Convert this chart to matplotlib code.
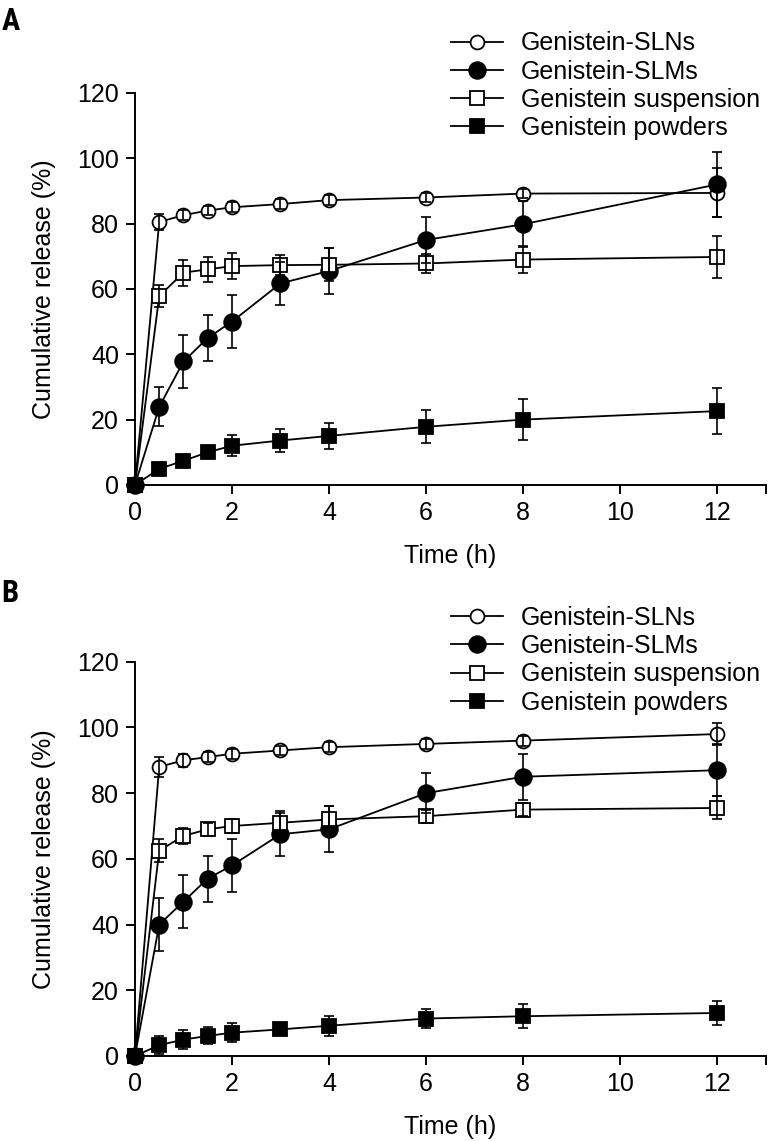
import matplotlib
matplotlib.use('Agg')
import matplotlib.pyplot as plt

plt.rcParams['font.family'] = ['Liberation Sans', 'DejaVu Sans']

# Tiempos de muestreo (h)
tiempo = [0, 0.5, 1, 1.5, 2, 3, 4, 6, 8, 12]

nombres = ['Genistein-SLNs', 'Genistein-SLMs', 'Genistein suspension', 'Genistein powders']

# Panel A
sln_a = [0, 80.5, 82.6, 84.0, 85.0, 86.0, 87.2, 88.0, 89.2, 89.4]
sln_a_err = [0, 2.5, 1.5, 1.5, 1.5, 1.5, 1.5, 1.5, 1.3, 7.5]
slm_a = [0, 23.9, 37.8, 45.0, 50.0, 61.7, 65.5, 75.0, 79.8, 92.0]
slm_a_err = [0, 6.0, 8.2, 7.0, 8.0, 6.7, 7.0, 7.0, 7.0, 10.0]
susp_a = [0, 57.8, 65.0, 66.0, 67.0, 67.3, 67.4, 67.8, 69.0, 69.8]
susp_a_err = [0, 3.3, 4.0, 3.8, 4.0, 3.0, 5.0, 3.0, 4.0, 6.3]
polvo_a = [0, 4.9, 7.4, 10.0, 12.0, 13.6, 15.0, 17.8, 20.0, 22.6]
polvo_a_err = [0, 1.0, 1.0, 1.2, 3.2, 3.6, 3.9, 5.0, 6.2, 7.0]

# Panel B
sln_b = [0, 88.0, 90.0, 91.0, 92.0, 93.0, 94.0, 95.0, 96.0, 98.0]
sln_b_err = [0, 3.0, 2.0, 1.5, 1.5, 1.5, 1.5, 1.5, 1.5, 3.3]
slm_b = [0, 40.0, 47.0, 54.0, 58.0, 67.5, 69.0, 80.0, 85.0, 87.0]
slm_b_err = [0, 8.0, 8.0, 7.0, 8.0, 6.5, 7.0, 6.0, 7.0, 8.0]
susp_b = [0, 62.5, 67.0, 69.0, 70.0, 71.0, 72.0, 73.0, 75.0, 75.5]
susp_b_err = [0, 3.5, 2.5, 2.0, 2.0, 3.5, 4.2, 2.0, 2.0, 3.5]
polvo_b = [0, 3.3, 5.0, 6.1, 7.1, 8.1, 9.2, 11.4, 12.1, 13.1]
polvo_b_err = [0, 2.8, 3.0, 2.6, 2.8, 1.5, 3.1, 3.0, 3.6, 3.7]

estilos = [
    dict(marker='o', markersize=10, markerfacecolor='white'),
    dict(marker='o', markersize=12, markerfacecolor='black'),
    dict(marker='s', markersize=10, markerfacecolor='white'),
    dict(marker='s', markersize=10.5, markerfacecolor='black'),
]

TAM = 18


def dibujar(ax, series, errores):
    lineas = []
    for y, e, st, nombre in zip(series, errores, estilos, nombres):
        l, = ax.plot(tiempo, y, color='black', linewidth=1.3,
                     markeredgecolor='black', markeredgewidth=1.3,
                     label=nombre, clip_on=False, zorder=3, **st)
        ax.errorbar(tiempo, y, yerr=e, fmt='none', ecolor='black',
                    elinewidth=1.2, capsize=3.5, capthick=1.2,
                    clip_on=False, zorder=4)
        lineas.append(l)
    ax.set_xlim(0, 13)
    ax.set_ylim(0, 120)
    ax.set_xticks([0, 2, 4, 6, 8, 10, 12, 13])
    ax.set_xticklabels(['0', '2', '4', '6', '8', '10', '12', ''])
    ax.set_yticks([0, 20, 40, 60, 80, 100, 120])
    ax.spines['top'].set_visible(False)
    ax.spines['right'].set_visible(False)
    for s in ['left', 'bottom']:
        ax.spines[s].set_linewidth(1.4)
    ax.tick_params(direction='out', length=6.5, width=1.4, labelsize=TAM, pad=5)
    ax.set_xlabel('Time (h)', fontsize=TAM, labelpad=14)
    ax.set_ylabel('Cumulative release (%)', fontsize=TAM, labelpad=15)
    return lineas


fig = plt.figure(figsize=(7.69, 11.41), dpi=100)

ax1 = fig.add_axes([0.1755, 0.575, 0.82, 0.3435])
h1 = dibujar(ax1, [sln_a, slm_a, susp_a, polvo_a],
             [sln_a_err, slm_a_err, susp_a_err, polvo_a_err])
fig.legend(handles=h1, loc='upper left', bbox_to_anchor=(0.586, 0.9725),
           frameon=False, fontsize=TAM, handlelength=2.1, handletextpad=0.7,
           labelspacing=0.17, borderpad=0, borderaxespad=0)
fig.text(0.002, 0.995, 'A', fontsize=22, fontweight='bold', va='top',
         family='Roboto Condensed')

ax2 = fig.add_axes([0.1755, 0.0745, 0.82, 0.3455])
h2 = dibujar(ax2, [sln_b, slm_b, susp_b, polvo_b],
             [sln_b_err, slm_b_err, susp_b_err, polvo_b_err])
fig.legend(handles=h2, loc='upper left', bbox_to_anchor=(0.586, 0.469),
           frameon=False, fontsize=TAM, handlelength=2.1, handletextpad=0.7,
           labelspacing=0.17, borderpad=0, borderaxespad=0)
fig.text(0.002, 0.493, 'B', fontsize=22, fontweight='bold', va='top',
         family='Roboto Condensed')

fig.savefig('out.png', dpi=100)
